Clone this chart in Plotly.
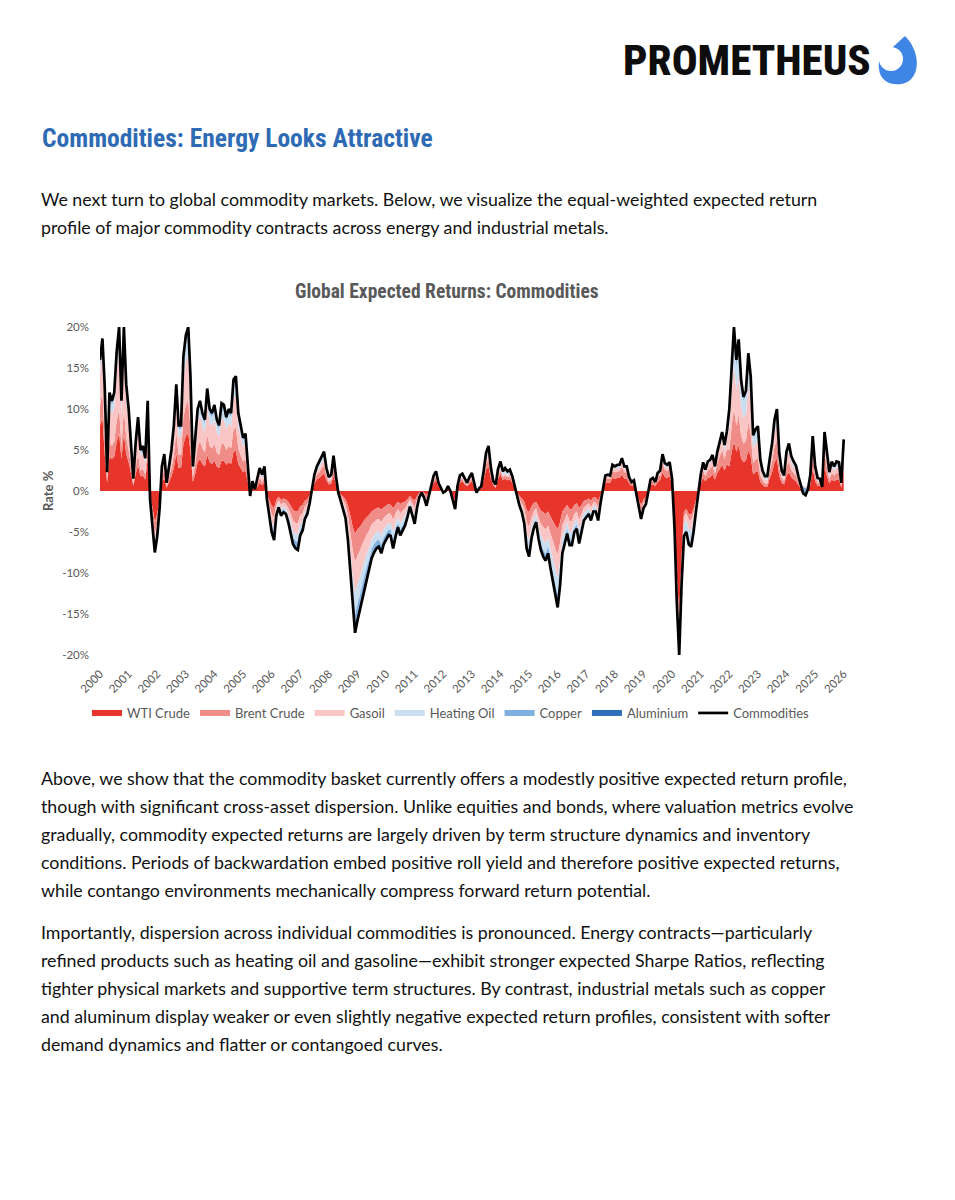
import plotly.graph_objects as go
import pandas as pd

# ---------------- data (monthly, Jan 2000 .. Jan 2026), values in % ----------------
months = pd.date_range("2000-01-01", "2026-01-01", freq="MS")

wti = [
    8, 9, 4.5, 1, 4.2, 3.9, 4.2, 6, 7, 3.9, 7, 4.5,
    3.5, 2.1, 0.6, 2.1, 3.1, 1.8, 1.9, 1.4, 3.9, -0.5, -2, -3.8,
    -2.8, -1, 1.1, 1.6, 0.4, 1.1, 1.8, 2.8, 4.6, 2.8, 2.8, 5.7,
    6.7, 7, 4.9, 1.1, 2.1, 3.5, 3.9, 3.3, 3, 4.4, 3.5, 3.3,
    3.7, 3, 2.8, 3.7, 3.7, 3.2, 3.5, 3.3, 4.8, 4.9, 3.3, 2.8,
    2.3, 2.5, 1.1, -0.2, 0.4, 0.1, 0.5, 1, 0.7, 1.1, -0.4, -1.1,
    -1.8, -2.1, -1.1, -0.7, -1.1, -0.9, -1, -1.3, -1.8, -2.3, -2.5, -2.5,
    -1.9, -1.7, -1.2, -1, -0.5, 0.2, 0.9, 1.4, 1.6, 1.9, 2.2, 1.3,
    0.8, 0.9, 1.9, 0.8, -0.1, -0.4, -0.7, -1, -1.8, -3, -4.4, -5.2,
    -4.7, -4.4, -4, -3.5, -3.2, -2.9, -2.5, -2.3, -2.1, -2, -2.3, -2,
    -1.8, -1.6, -1.7, -2.1, -1.7, -1.3, -1.6, -1.4, -1.3, -1, -0.6, -0.9,
    -1.2, -0.6, -0.2, -0.1, -0.2, -0.5, -0.2, 0.3, 1, 1.3, 0.6, 0.2,
    -0.1, 0, 0.3, 0, -0.7, -1.2, 0.3, 1, 1.2, 0.8, 0.6, 0.9,
    1.2, 0.5, -0.1, 0.2, 0.3, 1.4, 2.6, 3, 1.5, 0.7, 0.4, 1.5,
    2, 1.3, 1.5, 1.3, 1.4, 1, 0.3, -0.2, -0.6, -0.9, -1.3, -2.3,
    -2.6, -1.9, -1.5, -1.3, -1.9, -2.4, -2.6, -2.8, -2.5, -3.1, -3.7, -4.2,
    -4.7, -3.8, -2.5, -2.1, -1.7, -2.2, -2.2, -1.7, -1.5, -2.1, -1.7, -1.2,
    -1.1, -0.9, -1.2, -0.8, -0.8, -1.2, -0.5, 0.2, 1, 1, 1, 1.6,
    1.5, 1.6, 1.6, 2, 1.5, 1.5, 0.9, 0.6, 0.7, -0.1, -1, -1.7,
    -1, -0.8, -0.1, 0.7, 0.8, 0.6, 1.1, 1.3, 2.3, 1.7, 1.6, 1.8,
    0.8, -3.4, -10.1, -15, -8, -2.5, -2.2, -2.8, -2.9, -2.2, -1.1, -0.1,
    0.9, 1.6, 1.2, 1.6, 1.7, 2, 1.4, 2.2, 2.7, 3.2, 2.5, 3.3,
    3, 4.8, 6, 4.8, 5.6, 4, 3.5, 3.7, 5, 4.2, 2, 2.3,
    2.4, 1.1, 0.8, 0.5, 0.5, 1.6, 2.3, 3.5, 4, 1.8, 1, 0.8,
    1.9, 2.3, 1.7, 1.4, 1.2, 0.7, 0.3, 0.5, 0.4, 0.5, 0.8, 2.7,
    1.2, 0.6, 0.6, 0.5, 2.9, 1.8, 0.9, 1.4, 1.2, 1.4, 1.4, 0.4,
    2.5,
]

brent = [
    2.4, 3, 1.9, 0.4, 1.8, 1.6, 1.8, 2.5, 3, 1.6, 3, 2,
    1.5, 0.9, 0.2, 0.9, 1.4, 0.7, 0.8, 0.6, 1.6, -0.2, -0.8, -1.5,
    -1.1, -0.4, 0.6, 0.9, 0.2, 0.6, 1, 1.6, 2.6, 1.6, 1.6, 3.3,
    3.8, 4, 2.8, 0.6, 1.2, 2, 2.2, 1.9, 1.7, 2.5, 2, 1.9,
    2.1, 1.7, 1.6, 2.1, 2.1, 1.8, 2, 1.9, 2.7, 2.8, 1.9, 1.6,
    1.3, 1.4, 0.6, -0.1, 0.2, 0.1, 0.3, 0.6, 0.4, 0.6, -0.2, -0.6,
    -1, -1.2, -0.6, -0.4, -0.6, -0.5, -0.6, -0.8, -1, -1.3, -1.4, -1.4,
    -1.1, -1, -0.7, -0.6, -0.3, 0.1, 0.4, 0.6, 0.7, 0.9, 1, 0.6,
    0.3, 0.4, 0.9, 0.4, -0.1, -0.2, -0.4, -0.7, -1.2, -2, -2.9, -3.5,
    -3.2, -2.9, -2.6, -2.4, -2.1, -1.9, -1.6, -1.5, -1.4, -1.4, -1.5, -1.3,
    -1.2, -1.1, -1.1, -1.4, -1.1, -0.9, -1.1, -1, -0.8, -0.6, -0.4, -0.6,
    -0.8, -0.4, -0.2, 0, -0.2, -0.4, -0.1, 0.1, 0.3, 0.4, 0.1, 0.1,
    0, 0, 0.1, 0, -0.2, -0.3, 0.1, 0.3, 0.3, 0.2, 0.1, 0.3,
    0.3, 0.1, 0, 0, 0.1, 0.4, 0.7, 0.8, 0.4, 0.2, 0.1, 0.4,
    0.5, 0.4, 0.4, 0.4, 0.4, 0.3, 0.1, -0.1, -0.4, -0.6, -0.9, -1.5,
    -1.8, -1.3, -1, -0.8, -1.3, -1.6, -1.8, -1.9, -1.7, -2.1, -2.4, -2.8,
    -3.1, -2.5, -1.7, -1.4, -1.1, -1.5, -1.5, -1.1, -1, -1.4, -1.1, -0.8,
    -0.7, -0.6, -0.8, -0.6, -0.6, -0.8, -0.3, 0.1, 0.5, 0.5, 0.5, 0.8,
    0.8, 0.8, 0.8, 1, 0.8, 0.8, 0.4, 0.3, 0.3, -0.1, -0.5, -0.8,
    -0.5, -0.4, -0.1, 0.4, 0.4, 0.3, 0.6, 0.6, 1.1, 0.9, 0.8, 0.9,
    0.4, -0.4, -1.1, -1.6, -1, -0.6, -0.5, -0.7, -0.7, -0.5, -0.3, 0,
    0.5, 0.9, 0.6, 0.9, 1, 1.1, 0.7, 1.2, 1.5, 1.8, 1.4, 1.8,
    2, 3.2, 4, 3.2, 3.7, 2.7, 2.3, 2.4, 3.4, 2.8, 1.4, 1.5,
    1.6, 0.8, 0.5, 0.4, 0.4, 0.9, 1.3, 1.9, 2.2, 1, 0.6, 0.4,
    1.1, 1.3, 0.9, 0.8, 0.7, 0.4, 0.2, 0.1, 0.1, 0.1, 0.4, 1.5,
    0.7, 0.4, 0.3, 0.1, 1.6, 1, 0.5, 0.8, 0.7, 0.8, 0.8, 0.2,
    1.4,
]

gasoil = [
    4, 5, 4.5, 0.6, 4.2, 3.9, 4.2, 6, 7, 3.9, 7, 4.5,
    3.5, 2.1, 0.5, 2.1, 3.1, 1.8, 1.9, 1.4, 3.9, -0.2, -0.6, -1.1,
    -0.8, -0.3, 0.8, 1.3, 0.3, 0.8, 1.4, 2.2, 3.6, 2.2, 2.2, 4.6,
    5.3, 5.6, 3.9, 0.8, 1.7, 2.8, 3.1, 2.7, 2.4, 3.5, 2.8, 2.7,
    2.9, 2.4, 2.2, 3, 2.9, 2.5, 2.8, 2.7, 3.8, 3.9, 2.7, 2.2,
    1.8, 2, 0.8, -0.1, 0.3, 0, 0.3, 0.6, 0.4, 0.6, -0.2, -0.6,
    -1, -1.2, -0.6, -0.4, -0.6, -0.5, -0.6, -0.8, -1, -1.3, -1.4, -1.4,
    -1.1, -1, -0.7, -0.6, -0.3, 0.1, 0.3, 0.4, 0.5, 0.6, 0.7, 0.4,
    0.3, 0.3, 0.6, 0.3, 0, -0.3, -0.5, -0.7, -1.3, -2.2, -3.2, -3.8,
    -3.5, -3.2, -2.9, -2.6, -2.3, -2.1, -1.8, -1.6, -1.5, -1.5, -1.7, -1.4,
    -1.3, -1.2, -1.2, -1.5, -1.2, -1, -1.2, -1.1, -0.9, -0.7, -0.4, -0.6,
    -0.9, -0.4, -0.2, -0.1, -0.2, -0.4, -0.2, 0.1, 0.2, 0.2, 0.1, 0,
    0, 0, 0.1, 0, -0.1, -0.2, 0.1, 0.2, 0.2, 0.2, 0.1, 0.2,
    0.2, 0.1, 0, 0, 0.1, 0.2, 0.5, 0.6, 0.3, 0.1, 0.1, 0.3,
    0.4, 0.2, 0.3, 0.2, 0.3, 0.2, 0.1, -0.1, -0.4, -0.5, -0.8, -1.4,
    -1.6, -1.2, -0.9, -0.8, -1.2, -1.4, -1.6, -1.7, -1.5, -1.9, -2.2, -2.5,
    -2.8, -2.3, -1.5, -1.3, -1, -1.3, -1.3, -1, -0.9, -1.3, -1, -0.7,
    -0.6, -0.6, -0.7, -0.5, -0.5, -0.7, -0.3, 0, 0.2, 0.2, 0.2, 0.4,
    0.4, 0.4, 0.4, 0.5, 0.4, 0.4, 0.2, 0.1, 0.2, 0, -0.2, -0.4,
    -0.3, -0.2, 0, 0.2, 0.2, 0.1, 0.3, 0.3, 0.5, 0.4, 0.4, 0.4,
    0.2, -0.3, -0.9, -1.4, -1, -0.9, -0.9, -1.2, -1.2, -0.9, -0.4, 0,
    0.4, 0.6, 0.5, 0.6, 0.7, 0.8, 0.5, 0.9, 1.1, 1.3, 1, 1.3,
    2.7, 4.3, 5.4, 4.3, 5, 3.6, 3.1, 3.3, 4.5, 3.8, 1.8, 2,
    2.1, 1, 0.7, 0.5, 0.5, 0.8, 1.2, 1.7, 2, 0.9, 0.5, 0.4,
    1, 1.2, 0.9, 0.7, 0.6, 0.4, 0.2, 0, 0, 0, 0.4, 1.3,
    0.6, 0.3, 0.3, 0.1, 1.4, 0.9, 0.5, 0.7, 0.6, 0.7, 0.7, 0.2,
    1.3,
]

heating_oil = [
    1, 1, 1.3, 0.2, 1.2, 1.1, 1.2, 1.7, 2, 1.1, 2, 1.3,
    1, 0.6, 0.1, 0.6, 0.9, 0.5, 0.6, 0.4, 1.1, -0.1, -0.4, -0.8,
    -0.5, -0.2, 0.4, 0.5, 0.1, 0.4, 0.6, 1, 1.6, 1, 1, 2,
    2.3, 2.4, 1.7, 0.4, 0.7, 1.2, 1.3, 1.1, 1.1, 1.5, 1.2, 1.1,
    1.3, 1.1, 1, 1.3, 1.3, 1.1, 1.2, 1.1, 1.6, 1.7, 1.1, 1,
    0.8, 0.8, 0.4, -0.1, 0.1, 0, 0.2, 0.3, 0.3, 0.4, -0.1, -0.4,
    -0.6, -0.7, -0.4, -0.3, -0.4, -0.3, -0.3, -0.5, -0.6, -0.8, -0.8, -0.9,
    -0.6, -0.6, -0.4, -0.3, -0.2, 0.1, 0.2, 0.3, 0.4, 0.4, 0.5, 0.3,
    0.2, 0.2, 0.4, 0.2, 0, -0.2, -0.3, -0.5, -0.9, -1.5, -2.2, -2.6,
    -2.4, -2.2, -2, -1.8, -1.6, -1.4, -1.2, -1.1, -1.1, -1, -1.1, -1,
    -0.9, -0.8, -0.8, -1.1, -0.8, -0.7, -0.8, -0.7, -0.6, -0.5, -0.3, -0.4,
    -0.6, -0.3, -0.1, 0, -0.1, -0.3, -0.1, 0, 0.2, 0.3, 0.1, 0.1,
    -0.1, 0, 0.1, 0, -0.1, -0.2, 0.1, 0.2, 0.2, 0.2, 0.1, 0.2,
    0.2, 0.1, -0.1, 0.1, 0.1, 0.3, 0.5, 0.6, 0.3, 0.1, 0.1, 0.3,
    0.4, 0.3, 0.3, 0.3, 0.3, 0.2, 0, -0.1, -0.3, -0.4, -0.6, -1.1,
    -1.2, -0.9, -0.7, -0.6, -0.9, -1.1, -1.2, -1.3, -1.1, -1.4, -1.7, -1.9,
    -2.1, -1.7, -1.1, -1, -0.8, -1, -1, -0.7, -0.7, -1, -0.7, -0.5,
    -0.5, -0.4, -0.5, -0.4, -0.4, -0.5, -0.2, 0, 0.1, 0.2, 0.1, 0.2,
    0.2, 0.2, 0.2, 0.3, 0.2, 0.2, 0.1, 0.1, 0.1, 0, -0.2, -0.3,
    -0.2, -0.1, 0, 0.1, 0.1, 0.1, 0.1, 0.2, 0.3, 0.2, 0.2, 0.2,
    0.1, -0.3, -0.9, -1.4, -1, -1.2, -1.1, -1.5, -1.6, -1.1, -0.5, -0.1,
    0.2, 0.3, 0.2, 0.3, 0.3, 0.3, 0.3, 0.4, 0.5, 0.6, 0.5, 0.6,
    1.8, 2.9, 3.6, 2.9, 3.3, 2.4, 2.1, 2.2, 3, 2.5, 1.2, 1.4,
    1.4, 0.7, 0.4, 0.3, 0.3, 0.4, 0.7, 1, 1.2, 0.6, 0.3, 0.2,
    0.6, 0.7, 0.5, 0.4, 0.4, 0.2, 0.1, -0.2, -0.2, -0.1, 0.2, 0.8,
    0.4, 0.2, 0.2, 0, 0.9, 0.5, 0.3, 0.4, 0.4, 0.4, 0.4, 0.1,
    0.8,
]

copper = [
    0.5, 0.5, 0.5, 0.1, 0.5, 0.4, 0.5, 0.6, 0.8, 0.4, 0.8, 0.5,
    0.4, 0.2, 0.1, 0.2, 0.4, 0.2, 0.2, 0.2, 0.4, 0, -0.2, -0.3,
    -0.2, -0.1, 0.1, 0.2, 0, 0.1, 0.2, 0.3, 0.5, 0.3, 0.3, 0.6,
    0.7, 0.8, 0.6, 0.1, 0.2, 0.4, 0.4, 0.4, 0.4, 0.5, 0.4, 0.4,
    0.4, 0.4, 0.3, 0.5, 0.4, 0.3, 0.4, 0.4, 0.6, 0.6, 0.4, 0.3,
    0.2, 0.2, 0.1, -0.1, 0.1, 0, 0.1, 0.2, 0.2, 0.2, -0.1, -0.2,
    -0.4, -0.5, -0.2, -0.2, -0.2, -0.3, -0.2, -0.3, -0.4, -0.6, -0.6, -0.7,
    -0.5, -0.4, -0.3, -0.2, -0.1, 0, 0.1, 0.2, 0.3, 0.3, 0.3, 0.1,
    0.1, 0.1, 0.3, 0.1, 0, -0.1, -0.2, -0.3, -0.5, -0.8, -1.1, -1.4,
    -1.3, -1.1, -1.1, -0.9, -0.8, -0.8, -0.7, -0.6, -0.6, -0.6, -0.6, -0.5,
    -0.5, -0.4, -0.4, -0.6, -0.5, -0.3, -0.4, -0.4, -0.4, -0.3, -0.1, -0.3,
    -0.3, -0.2, -0.1, 0, -0.1, -0.1, -0.1, 0, 0.1, 0.1, 0.1, 0,
    0, 0, 0, 0, -0.1, -0.2, 0, 0.1, 0.1, 0.1, 0.1, 0.1,
    0.2, 0.1, 0, 0, 0, 0.1, 0.3, 0.4, 0.2, 0.1, 0.1, 0.2,
    0.2, 0.1, 0.2, 0.1, 0.1, 0.1, 0, 0, -0.1, -0.2, -0.3, -0.5,
    -0.6, -0.4, -0.3, -0.2, -0.4, -0.5, -0.6, -0.6, -0.5, -0.6, -0.8, -0.9,
    -1, -0.8, -0.5, -0.4, -0.4, -0.4, -0.4, -0.4, -0.3, -0.4, -0.4, -0.3,
    -0.2, -0.2, -0.3, -0.2, -0.2, -0.3, -0.1, 0, 0.1, 0.1, 0.1, 0.1,
    0.1, 0.1, 0.1, 0.1, 0.1, 0.1, 0.1, 0, 0, -0.1, -0.1, -0.1,
    -0.1, -0.1, 0, 0, 0.1, 0, 0.1, 0.1, 0.2, 0.1, 0.1, 0.1,
    0, -0.1, -0.3, -0.4, -0.3, -0.2, -0.2, -0.2, -0.3, -0.2, -0.1, 0,
    0, 0.1, 0.1, 0.1, 0.1, 0.1, 0.1, 0.1, 0.2, 0.2, 0.2, 0.2,
    0.4, 0.6, 0.8, 0.6, 0.7, 0.6, 0.4, 0.5, 0.7, 0.6, 0.3, 0.2,
    0.3, 0.2, 0.1, 0.1, 0.1, 0.1, 0.2, 0.4, 0.4, 0.2, 0.1, 0.1,
    0.1, 0.2, 0.2, 0.2, 0.1, 0.1, 0, -0.5, -0.6, -0.2, 0.1, 0.3,
    0.1, 0.1, 0.1, -0.1, 0.3, 0.2, 0.1, 0.2, 0.1, 0.2, 0.1, 0.1,
    0.2,
]

aluminium = [
    0.1, 0.1, 0.1, 0, 0.1, 0.1, 0.1, 0.2, 0.2, 0.1, 0.2, 0.2,
    0.1, 0.1, 0, 0.1, 0.1, 0, 0.1, 0, 0.1, 0, 0, 0,
    -0.1, 0, 0, 0, 0, 0, 0, 0.1, 0.1, 0.1, 0.1, 0.2,
    0.2, 0.2, 0.1, 0, 0.1, 0.1, 0.1, 0.1, 0.1, 0.1, 0.1, 0.1,
    0.1, 0.1, 0.1, 0.1, 0.1, 0.1, 0.1, 0.1, 0.1, 0.1, 0.1, 0.1,
    0.1, 0.1, 0, 0, 0.1, 0, 0.1, 0.1, 0, 0.1, 0, -0.1,
    -0.2, -0.3, -0.1, 0, -0.1, -0.1, -0.1, -0.1, -0.2, -0.2, -0.3, -0.3,
    -0.2, -0.1, -0.1, -0.1, -0.1, 0, 0.1, 0.1, 0.1, 0.2, 0.1, 0.1,
    0, 0.1, 0.2, 0, 0, 0, -0.1, -0.1, -0.3, -0.5, -0.7, -0.8,
    -0.7, -0.7, -0.6, -0.6, -0.5, -0.4, -0.4, -0.4, -0.3, -0.3, -0.4, -0.3,
    -0.3, -0.3, -0.3, -0.3, -0.3, -0.2, -0.3, -0.2, -0.2, -0.1, -0.1, -0.1,
    -0.2, -0.1, 0, 0, 0, -0.1, 0, 0, 0.1, 0.1, 0, 0,
    0, 0, 0, 0, 0, -0.1, 0, 0.1, 0.1, 0, 0, 0,
    0.1, 0, 0, 0, 0, 0.1, 0.1, 0.1, 0.1, 0, 0, 0,
    0.1, 0.1, 0.1, 0.1, 0.1, 0, 0, 0, 0, 0, -0.1, -0.2,
    -0.2, -0.1, -0.2, -0.1, -0.1, -0.2, -0.2, -0.2, -0.3, -0.3, -0.3, -0.3,
    -0.5, -0.4, -0.3, -0.2, -0.2, -0.2, -0.2, -0.1, -0.2, -0.2, -0.1, -0.1,
    -0.1, -0.1, -0.1, 0, 0, -0.1, -0.1, 0, 0, 0, 0, 0.1,
    0, 0.1, 0.1, 0.1, 0, 0, 0, 0, 0, 0, 0, -0.1,
    0, 0, 0, 0, 0, 0, 0, 0, 0.1, 0.1, 0.1, 0.1,
    0, 0, -0.2, -0.2, -0.2, -0.1, -0.1, -0.1, -0.1, -0.1, -0.1, 0,
    0, 0, 0, 0.1, 0, 0.1, 0, 0, 0, 0.1, 0, 0.1,
    0.1, 0.2, 0.2, 0.2, 0.2, 0.2, 0.1, 0.1, 0.2, 0.1, 0.1, 0.1,
    0.1, 0, 0, 0, 0, 0.1, 0.1, 0.2, 0.2, 0.1, 0, 0,
    0.1, 0.1, 0.1, 0.1, 0.1, 0, 0, -0.2, -0.2, -0.1, 0.1, 0.1,
    0, 0, 0, -0.1, 0.1, 0.1, 0, 0.1, 0, 0.1, 0.1, 0,
    0.1,
]

commodities = [
    16, 18.6, 12.8, 2.3, 12, 11, 12, 17, 20, 11, 20, 13,
    10, 6, 1.5, 6, 9, 5, 5.5, 4, 11, -1, -4, -7.5,
    -5.5, -2, 3, 4.5, 1, 3, 5, 8, 13, 8, 8, 16.4,
    19, 20, 14, 3, 6, 10, 11, 9.5, 8.7, 12.5, 10, 9.5,
    10.5, 8.7, 8, 10.7, 10.5, 9, 10, 9.5, 13.6, 14, 9.5, 8,
    6.5, 7, 3, -0.6, 1.2, 0.2, 1.5, 2.8, 2, 3, -1, -3,
    -5, -6, -3, -2, -3, -2.6, -2.8, -3.8, -5, -6.5, -7, -7.2,
    -5.4, -4.8, -3.4, -2.8, -1.5, 0.5, 2, 3, 3.6, 4.3, 4.8, 2.8,
    1.7, 2, 4.3, 1.8, -0.2, -1.2, -2.2, -3.3, -6, -10, -14.5, -17.3,
    -15.8, -14.5, -13.2, -11.8, -10.5, -9.5, -8.2, -7.5, -7, -6.8, -7.6, -6.5,
    -6, -5.4, -5.5, -7, -5.6, -4.4, -5.4, -4.8, -4.2, -3.2, -1.9, -2.9,
    -4, -2, -0.8, -0.2, -0.8, -1.8, -0.7, 0.5, 1.9, 2.4, 1, 0.4,
    -0.2, 0, 0.6, 0, -1.2, -2.2, 0.6, 1.9, 2.1, 1.5, 1, 1.7,
    2.2, 0.9, -0.2, 0.3, 0.6, 2.5, 4.7, 5.5, 2.8, 1.2, 0.8, 2.7,
    3.6, 2.4, 2.8, 2.4, 2.6, 1.8, 0.5, -0.5, -1.8, -2.6, -4, -7,
    -8, -5.8, -4.6, -3.8, -5.8, -7.2, -8, -8.5, -7.6, -9.4, -11.1, -12.6,
    -14.2, -11.5, -7.6, -6.4, -5.2, -6.6, -6.6, -5, -4.6, -6.4, -5, -3.6,
    -3.2, -2.8, -3.6, -2.5, -2.5, -3.6, -1.5, 0.3, 1.9, 2, 1.9, 3.2,
    3, 3.2, 3.2, 4, 3, 3, 1.7, 1.1, 1.3, -0.3, -2, -3.4,
    -2.1, -1.6, -0.2, 1.4, 1.6, 1.1, 2.2, 2.5, 4.5, 3.4, 3.2, 3.5,
    1.5, -4.5, -13.5, -20, -11.5, -5.5, -5, -6.5, -6.8, -5, -2.5, -0.2,
    2, 3.5, 2.6, 3.6, 3.8, 4.4, 3, 4.8, 6, 7.2, 5.6, 7.3,
    10, 16, 20, 16, 18.5, 13.5, 11.5, 12.2, 16.8, 14, 6.8, 7.5,
    7.9, 3.8, 2.5, 1.8, 1.8, 3.9, 5.8, 8.7, 10, 4.6, 2.5, 1.9,
    4.8, 5.8, 4.3, 3.6, 3.1, 1.8, 0.8, -0.3, -0.5, 0.2, 2, 6.7,
    3, 1.6, 1.5, 0.5, 7.2, 4.5, 2.3, 3.6, 3, 3.6, 3.5, 1,
    6.3,
]

series_names = ["WTI Crude", "Brent Crude", "Gasoil", "Heating Oil", "Copper", "Aluminium"]
line_name = "Commodities"
year_labels = [str(y) for y in range(2000, 2027)]
y_tick_values = [-20, -15, -10, -5, 0, 5, 10, 15, 20]
y_tick_labels = ["-20%", "-15%", "-10%", "-5%", "0%", "5%", "10%", "15%", "20%"]

chart_title = "Global Expected Returns: Commodities"
y_title = "Rate %"
heading = "Commodities: Energy Looks Attractive"
logo_text = "PROMETHEUS"
para1 = [
    "We next turn to global commodity markets. Below, we visualize the equal-weighted expected return",
    "profile of major commodity contracts across energy and industrial metals.",
]
para2 = [
    "Above, we show that the commodity basket currently offers a modestly positive expected return profile,",
    "though with significant cross-asset dispersion. Unlike equities and bonds, where valuation metrics evolve",
    "gradually, commodity expected returns are largely driven by term structure dynamics and inventory",
    "conditions. Periods of backwardation embed positive roll yield and therefore positive expected returns,",
    "while contango environments mechanically compress forward return potential.",
]
para3 = [
    "Importantly, dispersion across individual commodities is pronounced. Energy contracts\u2014particularly",
    "refined products such as heating oil and gasoline\u2014exhibit stronger expected Sharpe Ratios, reflecting",
    "tighter physical markets and supportive term structures. By contrast, industrial metals such as copper",
    "and aluminum display weaker or even slightly negative expected return profiles, consistent with softer",
    "demand dynamics and flatter or contangoed curves.",
]

# ---------------- styling ----------------
W, H = 955, 1200
OFF = 8  # the page body adds an 8px margin; positions below are in page pixels
BODY_FONT = "Lato, 'Liberation Sans', Arial, sans-serif"
COND_FONT = "Roboto, 'Liberation Sans', sans-serif"
GREY = "#595959"
fills = ["#E8352B", "#F08C88", "#F9C6C5", "#C9DEF1", "#7FB0E0", "#2E6DBA"]


def px(x):
    return (x - OFF) / W


def py(y):
    return 1 - (y - OFF) / H


def condensed(txt, weight=700):
    return f"<span style='font-stretch:75%;font-weight:{weight}'>{txt}</span>"


fig = go.Figure()
for name, vals, col in zip(series_names, [wti, brent, gasoil, heating_oil, copper, aluminium], fills):
    fig.add_trace(go.Scatter(
        x=months, y=vals, name=name, stackgroup="stack", mode="none",
        fillcolor=col, line=dict(width=0), hoverinfo="skip",
    ))
fig.add_trace(go.Scatter(
    x=months, y=commodities, name=line_name, mode="lines",
    line=dict(color="#000000", width=2.7),
))

fig.update_layout(
    width=W, height=H,
    margin=dict(l=0, r=0, t=0, b=0, autoexpand=False),
    paper_bgcolor="white", plot_bgcolor="white",
    font=dict(family=BODY_FONT, color=GREY),
    xaxis=dict(
        domain=[px(100), px(846)],
        type="date",
        range=["2000-01-01", "2026-01-30"],
        tickvals=[f"{y}-01-01" for y in year_labels],
        ticktext=year_labels,
        tickangle=-45,
        tickfont=dict(size=11.5, color=GREY, family=BODY_FONT),
        showgrid=False, zeroline=False, showline=False, ticks="",
        ticklabelstandoff=9, automargin=False,
    ),
    yaxis=dict(
        domain=[py(655), py(327)],
        range=[-20, 20],
        tickvals=y_tick_values,
        ticktext=y_tick_labels,
        tickfont=dict(size=11.5, color=GREY, family=BODY_FONT),
        showgrid=False, zeroline=False, showline=False, ticks="",
        ticklabelstandoff=10, automargin=False,
    ),
    legend=dict(
        orientation="h", x=px(451), xanchor="center", y=py(713), yanchor="middle",
        font=dict(size=13, color=GREY, family=BODY_FONT),
        traceorder="normal", bgcolor="rgba(0,0,0,0)",
        itemwidth=30,
    ),
    showlegend=True,
)

ann = []
# logo
ann.append(dict(x=px(873), y=py(60), xref="paper", yref="paper", text=condensed(logo_text, 800),
                showarrow=False, xanchor="right", yanchor="middle",
                font=dict(family=COND_FONT, size=43, color="#0d0d0d")))
# heading
ann.append(dict(x=px(40), y=py(138), xref="paper", yref="paper", text=condensed(heading),
                showarrow=False, xanchor="left", yanchor="middle",
                font=dict(family=COND_FONT, size=25.5, color="#2F6BB4")))
# chart title
ann.append(dict(x=px(447), y=py(291), xref="paper", yref="paper", text=condensed(chart_title),
                showarrow=False, xanchor="center", yanchor="middle",
                font=dict(family=COND_FONT, size=19.5, color=GREY)))
# y-axis title
ann.append(dict(x=px(48), y=py(491), xref="paper", yref="paper", text=f"<b>{y_title}</b>",
                showarrow=False, xanchor="center", yanchor="middle", textangle=-90,
                font=dict(family=BODY_FONT, size=13, color=GREY)))


def add_para(lines, y0):
    for i, line in enumerate(lines):
        ann.append(dict(x=px(39), y=py(y0 + 28 * i), xref="paper", yref="paper", text=line,
                        showarrow=False, xanchor="left", yanchor="middle",
                        font=dict(family=BODY_FONT, size=17.8, color="#111111")))


add_para(para1, 199)
add_para(para2, 778)
add_para(para3, 932)
fig.update_layout(annotations=ann)


# logo flame icon (decoration)
def path_px(cmds):
    out = []
    for c in cmds:
        if isinstance(c, str):
            out.append(c)
        else:
            out.append(f"{px(c[0]):.5f},{py(c[1]):.5f}")
    return " ".join(out)


flame = path_px(["M", (905, 36), "C", (919, 50), (921, 72), (909, 81),
                 "C", (898, 88), (880, 84), (879, 69),
                 "C", (878, 63), (880, 59), (882, 57), "Z"])
fig.add_shape(type="path", path=flame, xref="paper", yref="paper",
              fillcolor="#3E85E6", line=dict(width=0), layer="above")
fig.add_shape(type="circle", xref="paper", yref="paper",
              x0=px(879), x1=px(903), y0=py(47), y1=py(71),
              fillcolor="white", line=dict(width=0), layer="above")

fig.write_html("out.html")
